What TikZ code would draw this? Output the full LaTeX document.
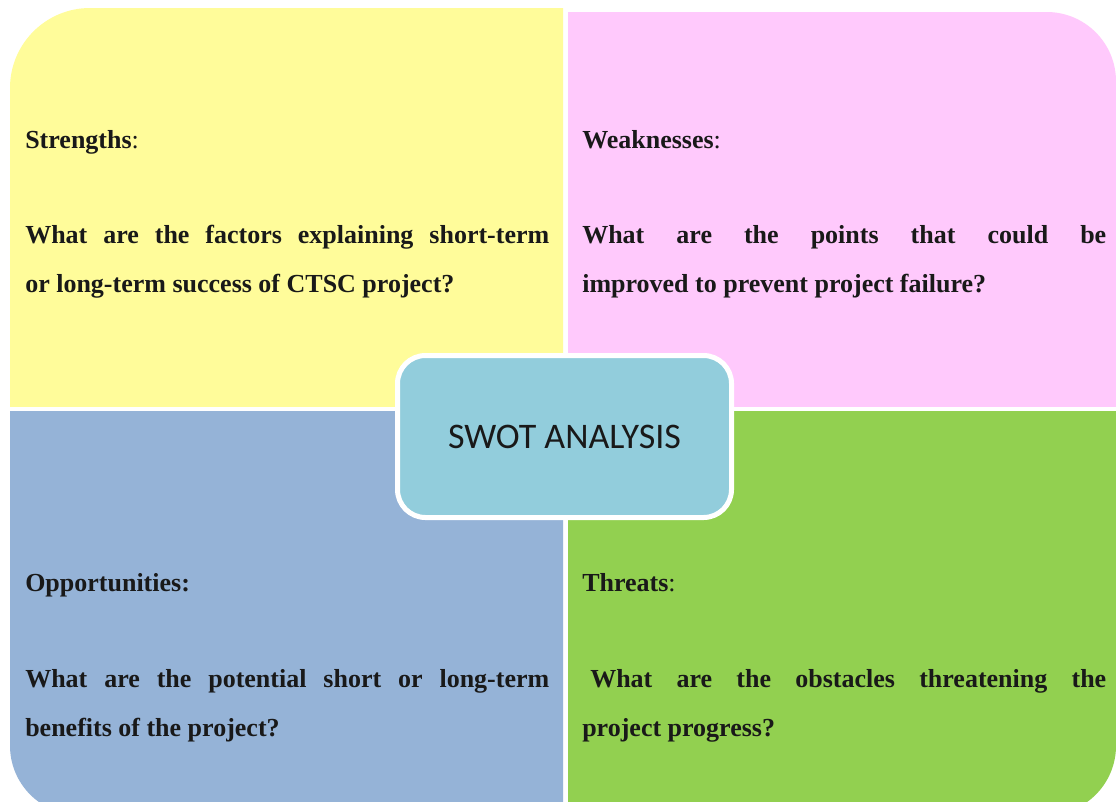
\documentclass[tikz,border=0pt]{standalone}
\usepackage{fontspec}
\newfontfamily\tnrfont{Liberation Serif}
\newfontfamily\calibfont{Carlito}
\definecolor{swotyellow}{HTML}{FFFC9A}
\definecolor{swotpink}{HTML}{FFC9FC}
\definecolor{swotblue}{HTML}{95B3D7}
\definecolor{swotgreen}{HTML}{92D050}
\definecolor{swotcenter}{HTML}{92CDDC}
\tikzset{
  txt/.style={anchor=base west, inner sep=0pt, text=black!90,
    font=\tnrfont\fontsize{19.5pt}{24pt}\selectfont\bfseries},
  centerbox/.style={draw=white, line width=3.75pt, fill=swotcenter,
    rounded corners=21pt, minimum width=250.5pt, minimum height=121.5pt,
    inner sep=0pt, font=\calibfont\fontsize{27pt}{32pt}\selectfont, text=black!90}
}
\begin{document}
\begin{tikzpicture}[x=0.75pt,y=-0.75pt]
\useasboundingbox (0,0) rectangle (1116,801);
\fill[white] (0,0) rectangle (1116,801);
% Strengths quadrant (rounded top-left)
\begin{scope}
  \clip (10,8) rectangle (563,406);
  \fill[swotyellow, rounded corners=60pt] (10,8) rectangle (700,600);
\end{scope}
% Weaknesses quadrant (rounded top-right)
\begin{scope}
  \clip (568,12) rectangle (1116,406);
  \fill[swotpink, rounded corners=52pt] (400,12) rectangle (1116,600);
\end{scope}
% Opportunities quadrant (rounded bottom-left)
\begin{scope}
  \clip (10,411) rectangle (563,801);
  \fill[swotblue, rounded corners=52pt] (10,200) rectangle (700,815);
\end{scope}
% Threats quadrant (rounded bottom-right)
\begin{scope}
  \clip (568,411) rectangle (1116,801);
  \fill[swotgreen, rounded corners=52pt] (400,200) rectangle (1116,815);
\end{scope}

\node[centerbox] (swot) at (564.5,436.5) {SWOT ANALYSIS};

% Strengths
\node[txt] (sh) at (25,148) {Strengths\textmd{:}};
\node[txt] (s1) at (25,243) {\makebox[393pt][s]{What are the factors explaining short-term}};
\node[txt] (s2) at (25,292) {or long-term success of CTSC project?};
% Weaknesses
\node[txt] (wh) at (582,148) {Weaknesses\textmd{:}};
\node[txt] (w1) at (582,243) {\makebox[393pt][s]{What are the points that could be}};
\node[txt] (w2) at (582,292) {improved to prevent project failure?};
% Opportunities
\node[txt] (oh) at (25,591) {Opportunities:};
\node[txt] (o1) at (25,687) {\makebox[393pt][s]{What are the potential short or long-term}};
\node[txt] (o2) at (25,736) {benefits of the project?};
% Threats
\node[txt] (th) at (582,591) {Threats\textmd{:}};
\node[txt] (t1) at (590,687) {\makebox[387pt][s]{What are the obstacles threatening the}};
\node[txt] (t2) at (582,736) {project progress?};
\end{tikzpicture}
\end{document}
